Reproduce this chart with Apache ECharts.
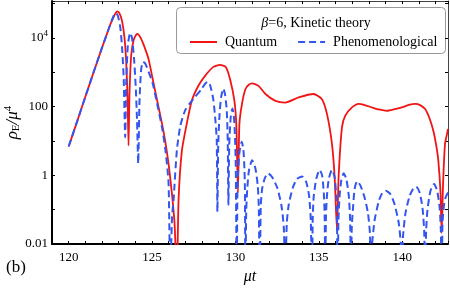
<!DOCTYPE html>
<html><head><meta charset="utf-8">
<script src="https://cdn.jsdelivr.net/npm/echarts@6/dist/echarts.min.js"></script>
<style>html,body{margin:0;padding:0;background:#fff}#c{width:450px;height:289px}</style>
</head><body><div id="c"></div>
<script>
// mu*t values and log10(rho_E/mu^4)
const tQuantum = [120.0,120.5,121.0,121.5,122.0,122.3,122.5,122.7,122.85,122.93,123.05,123.2,123.35,123.45,123.53,123.59,123.65,123.75,123.9,124.05,124.13,124.3,124.5,124.79,125.0,125.3,125.6,125.79,126.0,126.19,126.35,126.49,126.59,126.79,127.08,127.38,127.78,128.18,128.68,129.08,129.42,129.68,129.94,130.06,130.15,130.24,130.4,130.6,130.8,131.0,131.4,131.8,132.4,132.99,133.79,134.69,135.19,135.49,135.79,135.95,136.09,136.19,136.39,136.59,136.99,137.38,137.8,138.19,138.6,139.08,139.5,139.98,140.4,140.78,141.1,141.38,141.65,141.87,142.05,142.17,142.3,142.37,142.45,142.57,142.67,142.75];
const logRhoQuantum = [0.84,1.56,2.29,3.01,3.72,4.13,4.40,4.62,4.75,4.78,4.72,4.5,4.0,3.3,2.3,0.87,2.4,3.5,3.95,4.1,4.12,4.02,3.8,3.39,2.9,2.2,1.5,1.0,0.3,-0.52,-1.4,-3,-0.72,0.72,1.5,2.17,2.61,2.9,3.16,3.22,3.16,2.8,2.17,1.4,-0.5,1.5,2.1,2.51,2.64,2.68,2.6,2.37,2.17,2.12,2.27,2.37,2.22,1.79,0.92,-0.04,-1.6,-0.04,1.4,1.74,1.98,2.08,2.04,1.98,1.92,1.88,1.92,1.98,2.05,2.08,2.04,1.93,1.65,1.3,0.85,0.43,-0.5,-1.68,-0.3,0.92,1.16,1.35];
const tPheno = [120.0,120.5,121.0,121.5,122.0,122.3,122.5,122.7,122.83,122.95,123.1,123.22,123.3,123.39,123.45,123.55,123.69,123.8,123.92,124.02,124.1,124.17,124.25,124.35,124.47,124.6,124.79,125.03,125.3,125.59,125.8,125.99,126.09,126.2,126.29,126.49,126.7,126.99,127.3,127.59,127.95,128.2,128.34,128.5,128.68,128.8,128.88,128.92,128.97,129.05,129.15,129.28,129.38,129.48,129.54,129.58,129.63,129.72,129.82,129.9,129.97,130.02,130.08,130.12,130.17,130.25,130.38,130.48,130.54,130.57,130.6,130.65,130.71,130.81,131.0,131.2,131.34,131.4,131.46,131.52,131.6,131.75,131.96,132.2,132.5,132.75,132.9,132.99,133.08,133.2,133.45,133.7,134.0,134.25,134.42,134.52,134.59,134.64,134.7,134.85,135.05,135.2,135.3,135.35,135.39,135.43,135.49,135.6,135.79,135.95,136.05,136.09,136.13,136.18,136.25,136.35,136.49,136.65,136.8,136.88,136.93,136.98,137.06,137.15,137.3,137.5,137.75,137.95,138.07,138.13,138.2,138.35,138.6,138.8,139.02,139.3,139.55,139.8,139.92,139.98,140.05,140.2,140.45,140.65,140.84,141.05,141.22,141.32,141.38,141.44,141.52,141.7,141.92,142.1,142.25,142.32,142.37,142.42,142.5,142.6,142.73,142.75];
const logRhoPheno = [0.84,1.56,2.29,3.01,3.72,4.13,4.40,4.65,4.73,4.65,4.3,3.6,2.8,1.11,2.7,3.8,4.15,4.0,3.4,2.6,1.6,0.35,2.2,3.1,3.31,3.25,3.02,2.7,2.1,1.42,0.75,-0.22,-3,-1.2,-0.72,0.74,1.45,1.9,2.12,2.29,2.5,2.68,2.73,2.6,2.19,1.6,1.03,-1.06,0.9,1.8,2.3,2.53,2.35,1.9,1.0,-0.86,0.9,1.7,1.95,1.75,1.2,0.3,-3,-0.5,0.2,0.7,0.98,0.75,0.2,-0.4,-3,-1.0,-0.4,0.14,0.44,0.2,-0.3,-0.9,-3,-0.9,-0.4,-0.1,0.06,-0.05,-0.35,-0.85,-1.5,-3,-1.4,-0.85,-0.35,-0.1,-0.03,-0.2,-0.6,-1.3,-3,-1.2,-0.6,-0.1,0.16,0.0,-0.5,-1.1,-3,-1.2,-0.6,-0.1,0.16,-0.05,-0.6,-1.2,-3,-1.3,-0.6,-0.15,0.06,-0.1,-0.6,-1.3,-3,-1.5,-0.9,-0.4,-0.17,-0.3,-0.65,-1.1,-1.7,-3,-2.0,-1.3,-0.75,-0.52,-0.45,-0.55,-0.85,-1.4,-2.0,-3,-1.8,-1.1,-0.6,-0.4,-0.33,-0.5,-0.95,-1.6,-3,-1.6,-1.0,-0.45,-0.25,-0.45,-0.95,-1.6,-3,-1.4,-0.9,-0.65,-0.52,-0.5];
const xTickLabels = [120,125,130,135,140];
const yTickExponents = [-2,0,2,4];
const yTickTexts = ['0.01','1','100','10{sup|4}'];
const seriesNames = ['Quantum','Phenomenological'];
const legendTitle = '{i|β}=6, Kinetic theory';

const pairs = (xs, ys) => xs.map((x, i) => [x, ys[i]]);
const serif = '"Liberation Serif","DejaVu Serif",serif';
const chart = echarts.init(document.getElementById('c'), null, {renderer: 'canvas'});
const xMin = 119, xMax = 142.75, yMin = -2, yMax = 5.08;
chart.setOption({
  animation: false,
  grid: {left: 52, right: 2, top: 1, bottom: 45, containLabel: false, outerBoundsMode: 'none'},
  title: {
    text: legendTitle, left: 311, top: 11, textAlign: 'center',
    textStyle: {fontFamily: serif, fontSize: 14, fontWeight: 'normal', color: '#000',
      rich: {i: {fontFamily: serif, fontSize: 14, fontStyle: 'italic', color: '#000'}}}
  },
  legend: {
    data: seriesNames, left: 184, top: 30, itemWidth: 27, itemHeight: 12, itemGap: 20,
    itemStyle: {opacity: 0},
    textStyle: {fontFamily: serif, fontSize: 14, color: '#000', padding: [0, 0, 0, 3]}
  },
  graphic: [
    {type: 'rect', shape: {x: 176.5, y: 7.5, width: 269, height: 46, r: 4},
     style: {fill: '#fff', stroke: '#999', lineWidth: 1}, z: 0, silent: true},
    {type: 'text', left: 6, top: 259, style: {text: '(b)', font: '17px ' + serif, fill: '#000'}}
  ],
  xAxis: [{
    type: 'value', min: xMin, max: xMax, interval: 1,
    name: 'μt', nameLocation: 'middle', nameGap: 24,
    nameTextStyle: {fontFamily: serif, fontSize: 16, fontStyle: 'italic', color: '#000'},
    axisLine: {onZero: false, lineStyle: {color: '#000', width: 2}},
    axisTick: {inside: true, length: 3, lineStyle: {color: '#000', width: 1}},
    axisLabel: {margin: 7, fontFamily: serif, fontSize: 13, color: '#000',
      formatter: v => xTickLabels.includes(v) ? String(v) : ''},
    splitLine: {show: false}
  }, {
    type: 'value', position: 'top', min: xMin, max: xMax, interval: 1,
    axisLine: {onZero: false, lineStyle: {color: '#444', width: 1}},
    axisTick: {inside: true, length: 3, lineStyle: {color: '#000'}},
    axisLabel: {show: false}, splitLine: {show: false}
  }],
  yAxis: [{
    type: 'value', min: yMin, max: yMax, interval: 1,
    name: 'ρ{sub|E}/μ{sup|4}', nameLocation: 'middle', nameGap: 30, nameRotate: 90,
    nameMoveOverlap: false,
    nameTextStyle: {fontFamily: serif, fontSize: 17, fontStyle: 'italic', color: '#000',
      rich: {sub: {fontFamily: serif, fontSize: 11, fontStyle: 'normal', verticalAlign: 'bottom', padding: [8, 0, 0, 0]},
             sup: {fontFamily: serif, fontSize: 11, fontStyle: 'normal', verticalAlign: 'top', padding: [0, 0, 8, 0]}}},
    axisLine: {onZero: false, lineStyle: {color: '#000', width: 2}},
    axisTick: {inside: true, length: 3, lineStyle: {color: '#000'}},
    axisLabel: {margin: 4, fontFamily: serif, fontSize: 13, color: '#000',
      formatter: v => { const k = yTickExponents.indexOf(Math.round(v * 100) / 100); return k >= 0 ? yTickTexts[k] : ''; },
      rich: {sup: {fontFamily: serif, fontSize: 9, verticalAlign: 'top', padding: [0, 0, 8, 0]}}},
    splitLine: {show: false}
  }, {
    type: 'value', position: 'right', min: yMin, max: yMax, interval: 1,
    axisLine: {show: true, onZero: false, lineStyle: {color: '#444', width: 1}},
    axisTick: {inside: true, length: 3, lineStyle: {color: '#000'}},
    axisLabel: {show: false}, splitLine: {show: false}
  }],
  series: [{
    name: seriesNames[0], type: 'line', data: pairs(tQuantum, logRhoQuantum),
    symbol: 'none', smooth: 0.2, clip: true,
    lineStyle: {color: '#f21414', width: 1.8}, itemStyle: {color: '#f21414'}, z: 3
  }, {
    name: seriesNames[1], type: 'line', data: pairs(tPheno, logRhoPheno),
    symbol: 'none', smooth: 0.2, clip: true,
    lineStyle: {color: '#3355f0', width: 2, type: [7, 4]}, itemStyle: {color: '#3355f0'}, z: 4
  }]
});
</script></body></html>
